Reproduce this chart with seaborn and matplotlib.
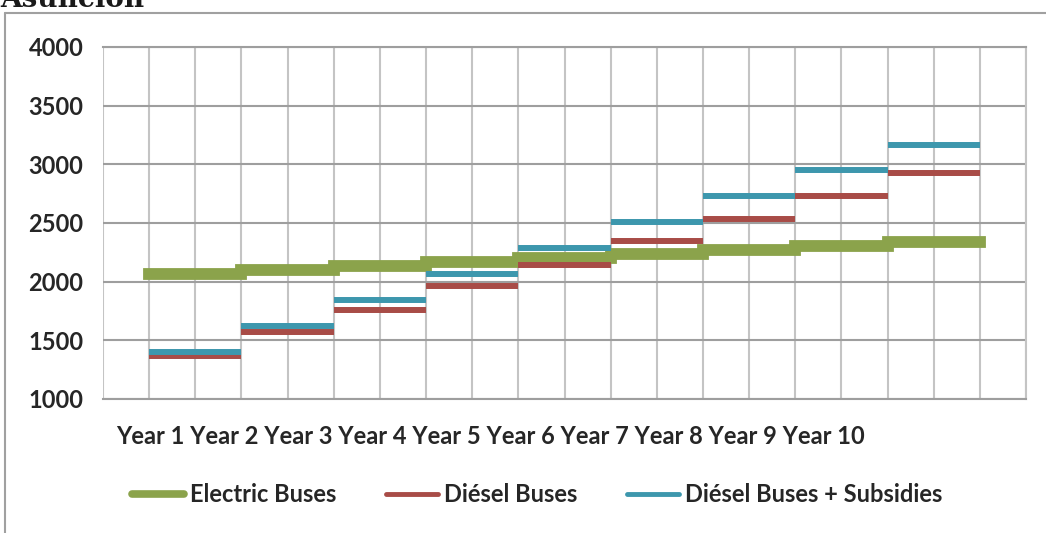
import matplotlib
matplotlib.use("Agg")
import matplotlib.pyplot as plt
from matplotlib.lines import Line2D
import seaborn as sns
import pandas as pd

# values, one per year segment
years = ["Year 1", "Year 2", "Year 3", "Year 4", "Year 5",
         "Year 6", "Year 7", "Year 8", "Year 9", "Year 10"]
electric = [2068, 2099, 2132, 2166, 2204, 2234, 2268, 2300, 2335]
diesel = [1365, 1568, 1761, 1959, 2146, 2345, 2534, 2733, 2923]
diesel_sub = [1401, 1622, 1841, 2065, 2283, 2510, 2728, 2949, 3169]

series_names = ["Electric Buses", "Diésel Buses", "Diésel Buses + Subsidies"]
series_vals = [electric, diesel, diesel_sub]
colors = ["#8BA34B", "#A84C47", "#3D97AD"]
widths = [8.5, 4.3, 4.3]
caps = ["projecting", "butt", "butt"]

# each year is a flat segment spanning two grid columns
rows = []
for name, vals in zip(series_names, series_vals):
    for i, v in enumerate(vals):
        rows.append({"series": name, "seg": i, "x": 2 * i + 1, "value": v})
        rows.append({"series": name, "seg": i, "x": 2 * i + 3, "value": v})
df = pd.DataFrame(rows)

sns.set_style("white")
plt.rcParams["font.family"] = ["Lato", "DejaVu Sans"]
fs = 17

fig = plt.figure(figsize=(10.46, 5.33), dpi=100)
ax = fig.add_axes([103 / 1046, 1 - 399 / 533, 923 / 1046, 352 / 533])

for name, col, lw, cap in zip(series_names, colors, widths, caps):
    sns.lineplot(data=df[df["series"] == name], x="x", y="value", units="seg",
                 estimator=None, color=col, linewidth=lw, ax=ax,
                 solid_capstyle=cap, legend=False, zorder=3)

ax.set_xlim(0, 20)
ax.set_ylim(1000, 4000)
ax.set_xticks(range(0, 21))
ax.set_yticks(range(1000, 4001, 500))
ax.set_xticklabels([])
ax.tick_params(axis="both", length=0)
ax.tick_params(axis="y", pad=14, labelsize=fs)
for lab in ax.get_yticklabels():
    lab.set_fontweight("bold")
ax.set_xlabel("")
ax.set_ylabel("")
ax.xaxis.grid(True, color="#C4C4C4", linewidth=1.5)
ax.yaxis.grid(True, color="#9E9E9E", linewidth=1.5)
ax.set_axisbelow(True)
ax.spines["left"].set_visible(False)
for side in ["top", "bottom"]:
    ax.spines[side].set_color("#9E9E9E")
    ax.spines[side].set_linewidth(1.5)
ax.spines["right"].set_color("#C4C4C4")
ax.spines["right"].set_linewidth(1.5)

# category labels run together under the plot, as in the source
fig.text(116 / 1046, 1 - 437 / 533, " ".join(years), fontsize=fs,
         fontweight="bold", va="center", ha="left")

# outer chart frame, partly cut off
fig.add_artist(Line2D([5 / 1046, 5 / 1046], [0, 1 - 13 / 533],
                      transform=fig.transFigure, color="#A0A0A0", linewidth=1.5))
fig.add_artist(Line2D([5 / 1046, 1], [1 - 13 / 533, 1 - 13 / 533],
                      transform=fig.transFigure, color="#A0A0A0", linewidth=1.5))

# title sits mostly above the crop of the original image
fig.text(0, 1 + 14 / 533, "Asunción", fontsize=20, fontweight="bold",
         family="DejaVu Serif", va="top", ha="left", color="#1a1a1a")

handles = [Line2D([], [], color=c, linewidth=lw2) for c, lw2 in zip(colors, [5.5, 3.5, 3.5])]
fig.legend(handles, series_names, loc="center", ncol=3, frameon=False,
           bbox_to_anchor=(537 / 1046, 1 - 495 / 533),
           prop={"family": "Lato", "weight": "bold", "size": fs},
           handlelength=2.2, handletextpad=0.25, columnspacing=2.1)

fig.savefig("out.png", dpi=100)
